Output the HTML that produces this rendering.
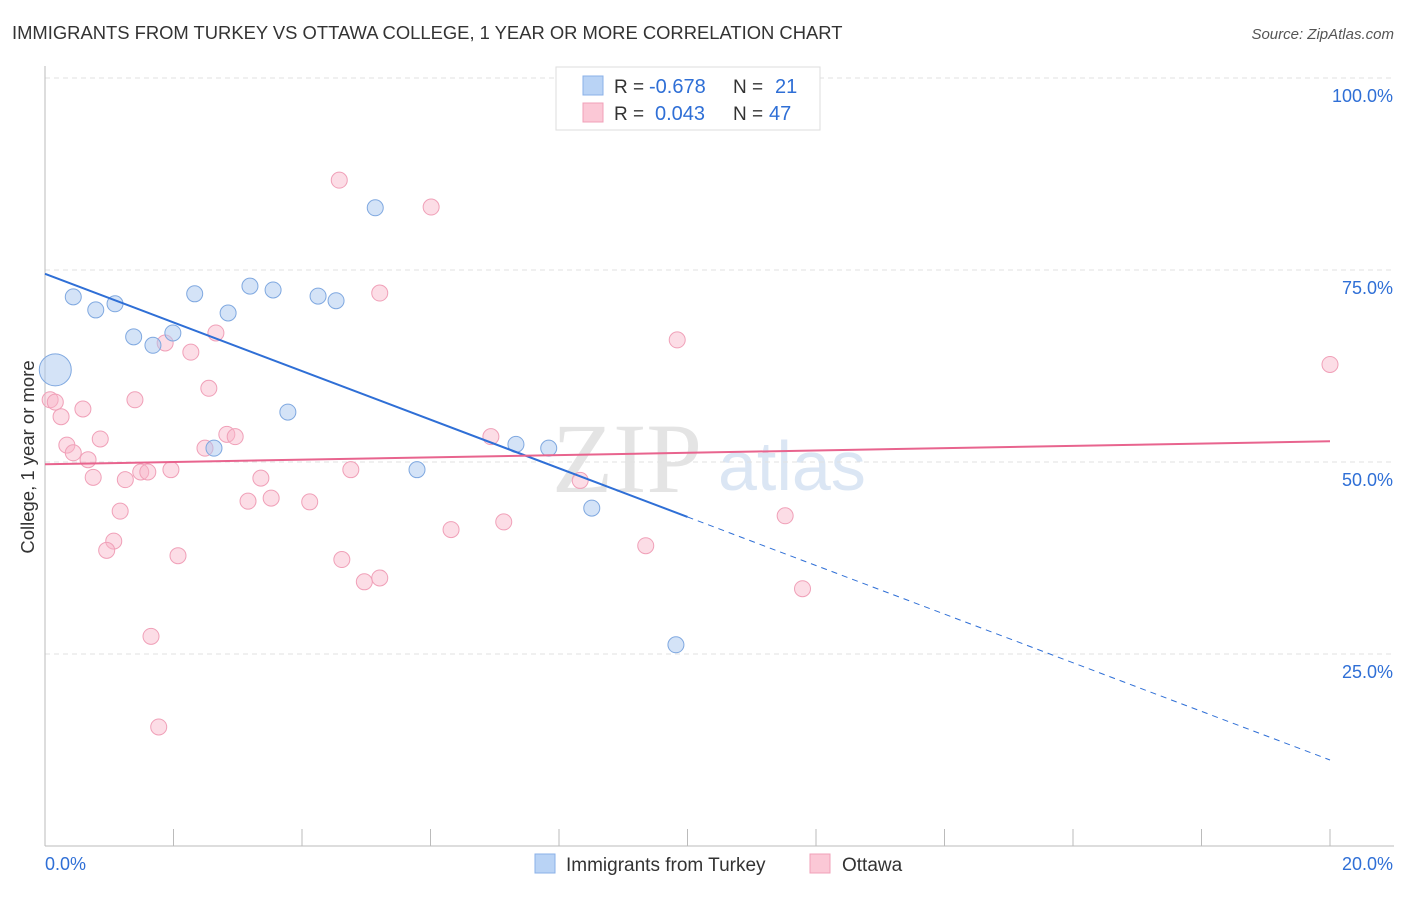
<!DOCTYPE html>
<html><head><meta charset="utf-8"><style>
body{margin:0;background:#fff;font-family:"Liberation Sans",sans-serif}
</style></head><body>
<svg id="c" width="1406" height="892" xmlns="http://www.w3.org/2000/svg">
<text x="12" y="39" font-size="18.4" fill="#333">IMMIGRANTS FROM TURKEY VS OTTAWA COLLEGE, 1 YEAR OR MORE CORRELATION CHART</text>
<text x="1394" y="39" font-size="15" fill="#555" font-style="italic" text-anchor="end">Source: ZipAtlas.com</text>
<text x="552" y="492" font-size="100" fill="#e4e4e4" font-family="Liberation Serif">ZIP</text>
<text x="718" y="490" font-size="70" fill="#dbe6f4">atlas</text>
<g id="grid"></g><g id="pts"></g><g id="lines"></g>
<text transform="translate(34,457) rotate(-90)" font-size="18.5" fill="#333" text-anchor="middle">College, 1 year or more</text>
<g>
<rect x="556" y="67" width="264" height="63" fill="#fff" stroke="#ddd"/>
<rect x="583" y="76" width="20" height="19" fill="#b9d3f5" stroke="#8ab0e8"/>
<rect x="583" y="103" width="20" height="19" fill="#fbc8d6" stroke="#f0a0b8"/>
<text x="614" y="93" font-size="19" fill="#333">R =</text>
<text x="649" y="93" font-size="20" fill="#2f6fd6">-0.678</text>
<text x="733" y="93" font-size="19" fill="#333">N =</text>
<text x="775" y="93" font-size="20" fill="#2f6fd6">21</text>
<text x="614" y="120" font-size="19" fill="#333">R =</text>
<text x="655" y="120" font-size="20" fill="#2f6fd6">0.043</text>
<text x="733" y="120" font-size="19" fill="#333">N =</text>
<text x="769" y="120" font-size="20" fill="#2f6fd6">47</text>
</g>
<g>
<rect x="535" y="854" width="20" height="19" fill="#b9d3f5" stroke="#8ab0e8"/>
<text x="566" y="871" font-size="19" fill="#333">Immigrants from Turkey</text>
<rect x="810" y="854" width="20" height="19" fill="#fbc8d6" stroke="#f0a0b8"/>
<text x="842" y="871" font-size="19" fill="#333">Ottawa</text>
</g>
</svg>
<script>
const yTicks=[25,50,75,100];
const blueX=[0.44,0.79,1.09,1.38,1.68,1.99,2.33,2.85,2.63,3.19,3.55,3.78,4.25,4.53,5.14,5.79,7.33,7.84,8.51,9.82,0.16];
const blueY=[71.5,69.8,70.6,66.3,65.2,66.8,71.9,69.4,51.8,72.9,72.4,56.5,71.6,71.0,83.1,49.0,52.3,51.8,44.0,26.2,62.0];
const pinkX=[4.58,6.01,5.21,2.66,1.87,2.27,9.84,20,2.55,0.08,0.16,1.4,0.59,0.25,2.83,2.96,0.86,0.34,0.44,0.67,2.49,6.94,0.75,1.25,1.49,1.6,1.96,3.36,4.76,8.33,3.16,3.52,4.12,1.17,11.52,6.32,7.14,1.07,0.96,2.07,9.35,4.62,4.97,5.21,11.79,1.65,1.77];
const pinkY=[86.7,83.2,72.0,66.8,65.5,64.3,65.9,62.7,59.6,58.1,57.8,58.1,56.9,55.9,53.6,53.3,53.0,52.2,51.2,50.3,51.8,53.3,48.0,47.7,48.7,48.7,49.0,47.9,49.0,47.6,44.9,45.3,44.8,43.6,43.0,41.2,42.2,39.7,38.5,37.8,39.1,37.3,34.4,34.9,33.5,27.3,15.5];
const blueFit=[74.5,11.2], pinkFit=[49.7,52.7];
const X=v=>45+v*64.25, Y=v=>846-v*7.68;
const ns="http://www.w3.org/2000/svg";
function mk(t,a,p){const e=document.createElementNS(ns,t);for(const k in a)e.setAttribute(k,a[k]);p.appendChild(e);return e;}
const g=document.getElementById('grid');
for(const t of yTicks){
 const l=mk('line',{x1:45,x2:1394,y1:Y(t),y2:Y(t),stroke:'#e2e2e2','stroke-dasharray':'5,4'},g);
 
 
 const tx=mk('text',{x:1393,y:Y(t)+24,'font-size':18,fill:'#2f6fd6','text-anchor':'end'},g);tx.textContent=t.toFixed(1)+'%';
 
 
}
mk('line',{x1:45,x2:45,y1:66,y2:846,stroke:'#bbb'},g);
mk('line',{x1:45,x2:1394,y1:846,y2:846,stroke:'#bbb'},g);
for(let i=1;i<=10;i++){mk('line',{x1:X(i*2),x2:X(i*2),y1:829,y2:846,stroke:'#bbb'},g);}
const xl=[['0.0%',45,'start'],['20.0%',1393,'end']];
for(const [s,x,a] of xl){const t=mk('text',{x:x,y:870,'font-size':18,fill:'#2f6fd6','text-anchor':a},g);t.textContent=s;
 
 }
const p=document.getElementById('pts');
pinkX.forEach((x,i)=>{const c=mk('circle',{cx:X(x),cy:Y(pinkY[i]),r:8,fill:'rgba(248,180,200,0.45)',stroke:'#f0a0b8','stroke-width':1},p);
 
 });
blueX.forEach((x,i)=>{const c=mk('circle',{cx:X(x),cy:Y(blueY[i]),r:i==20?16:8,fill:'rgba(170,200,240,0.5)',stroke:'#7fa8e0','stroke-width':1},p);
 
 });
const L=document.getElementById('lines');
const bm=v=>blueFit[0]+(blueFit[1]-blueFit[0])*v/20;
const b1=mk('line',{x1:X(0),y1:Y(bm(0)),x2:X(10),y2:Y(bm(10)),stroke:'#2f6fd6','stroke-width':2},L);


const b2=mk('line',{x1:X(10),y1:Y(bm(10)),x2:X(20),y2:Y(bm(20)),stroke:'#2f6fd6','stroke-width':1,'stroke-dasharray':'6,5'},L);


const pl=mk('line',{x1:X(0),y1:Y(pinkFit[0]),x2:X(20),y2:Y(pinkFit[1]),stroke:'#e8648e','stroke-width':2},L);


</script>
</body></html>
